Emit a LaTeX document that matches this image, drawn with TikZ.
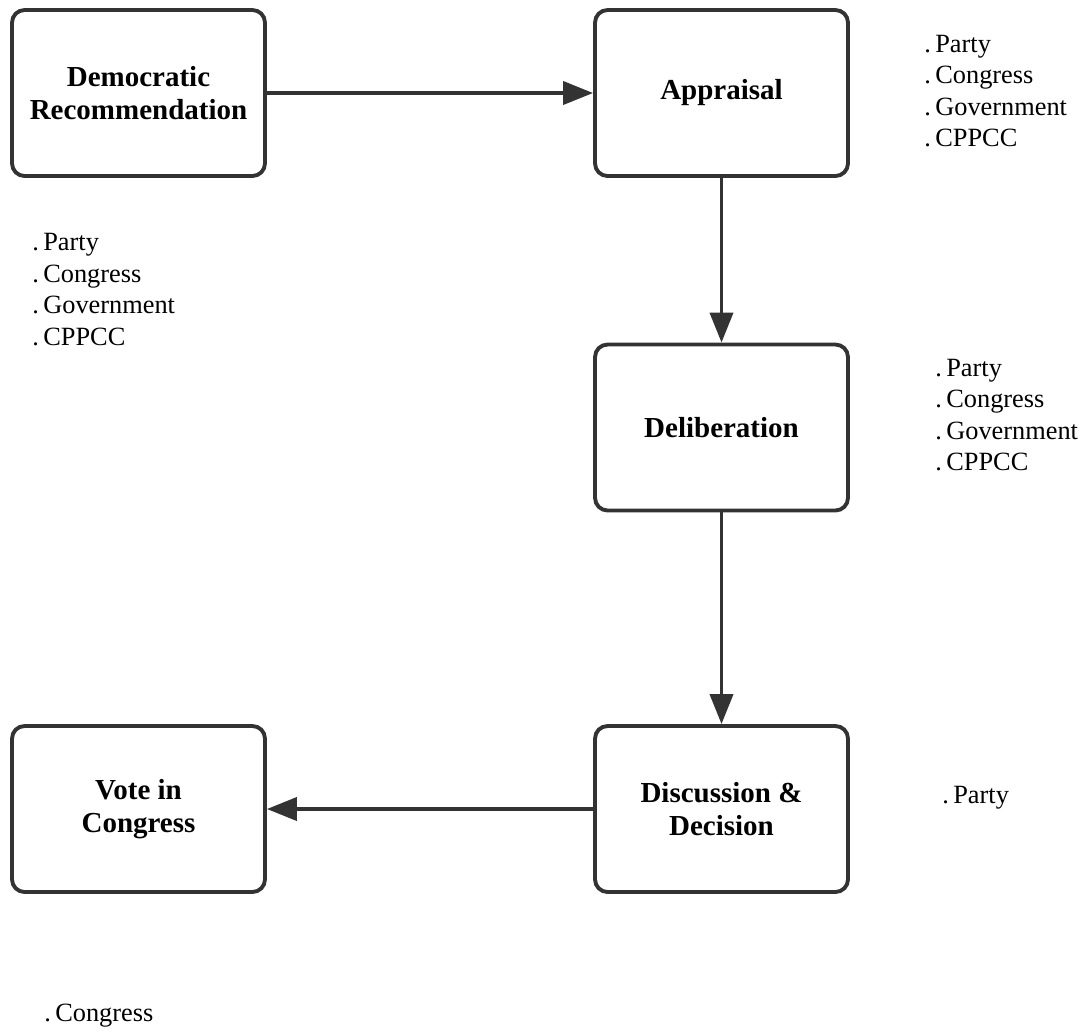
\documentclass[tikz,border=0pt]{standalone}
\usepackage{fontspec}
\setmainfont{Liberation Serif}
\usetikzlibrary{arrows.meta, positioning}
\definecolor{linegray}{HTML}{333333}
\begin{document}
\begin{tikzpicture}[
		x=0.02cm, y=-0.02cm,
		stage/.style={rectangle, rounded corners=2.5mm, draw=linegray, line width=2.2pt, minimum width=5.06cm, minimum height=3.32cm, align=center, font=\fontsize{16.5}{18.7}\selectfont\bfseries},
		actors/.style={anchor=west, inner sep=0pt, align=left, font=\fontsize{15}{18}\selectfont},
		flow/.style={draw=linegray, line width=2.2pt, -{Triangle[length=0.6cm, width=0.46cm]}}
		]
		\useasboundingbox (0, 0) rectangle (1092, 1032);
		\node (recommendation) at (138.5, 93) [stage] {Democratic\\Recommendation};
		\node (appraisal) at (721.5, 93) [stage] {Appraisal};
		\node (deliberation) at (721.5, 427.5) [stage] {Deliberation};
		\node (decision) at (721.5, 809) [stage] {Discussion \&\\Decision};
		\node (vote) at (138.5, 809) [stage] {Vote in\\Congress};
		% who takes part in each stage
		\node (appraisal actors) at (924, 91) [actors] {.\,Party\\.\,Congress\\.\,Government\\.\,CPPCC};
		\node (recommendation actors) at (32, 289.5) [actors] {.\,Party\\.\,Congress\\.\,Government\\.\,CPPCC};
		\node (deliberation actors) at (935, 415) [actors] {.\,Party\\.\,Congress\\.\,Government\\.\,CPPCC};
		\node (decision actors) at (942, 798) [actors] {.\,Party};
		\node (vote actors) at (44, 1016) [actors] {.\,Congress};
		\draw[flow] (recommendation) -- (appraisal);
		\draw[flow] (appraisal) -- (deliberation);
		\draw[flow] (deliberation) -- (decision);
		\draw[flow] (decision) -- (vote);
	\end{tikzpicture}
\end{document}
